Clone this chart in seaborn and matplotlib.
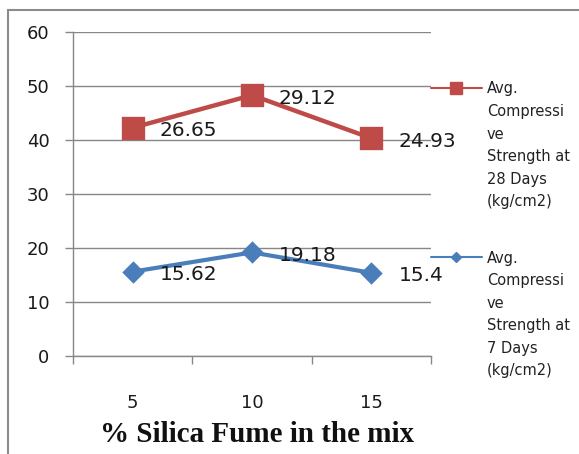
import matplotlib
matplotlib.use("Agg")
import matplotlib.pyplot as plt
import numpy as np
import pandas as pd
import seaborn as sns
from matplotlib.lines import Line2D
from matplotlib.patches import Rectangle

# Data: average compressive strength (kg/cm2) vs % silica fume
silica_pct = ["5", "10", "15"]
strength_7d = [15.62, 19.18, 15.4]
strength_28d = [26.65, 29.12, 24.93]
y_ticks = [0, 10, 20, 30, 40, 50, 60]
x_label = "% Silica Fume in the mix"
legend_28d = ["Avg.", "Compressi", "ve", "Strength at", "28 Days", "(kg/cm2)"]
legend_7d = ["Avg.", "Compressi", "ve", "Strength at", "7 Days", "(kg/cm2)"]

RED = "#BE4B48"
BLUE = "#4A7EBB"
GRID = "#878787"

sns.set_theme(style="white")
plt.rcParams["font.family"] = ["DejaVu Sans"]

df = pd.DataFrame({"pct": silica_pct, "d7": strength_7d, "d28": strength_28d})
# stacked line chart: the 28-day series is drawn on top of the 7-day series
df["d28_stacked"] = df["d7"] + df["d28"]

W, H = 579, 454
fig = plt.figure(figsize=(W / 100, H / 100), dpi=100)
ax = fig.add_axes([73 / W, 1 - 356 / H, (431 - 73) / W, (356 - 32) / H])

sns.pointplot(data=df, x="pct", y="d28_stacked", order=silica_pct, color=RED,
              markers="s", markersize=14, linewidth=3.2, errorbar=None, ax=ax)
sns.pointplot(data=df, x="pct", y="d7", order=silica_pct, color=BLUE,
              markers="D", markersize=9.5, linewidth=3.0, errorbar=None, ax=ax)

# value labels (each series' own value, placed beside its point)
for i in range(len(df)):
    ax.annotate(f"{df['d28'][i]:g}", xy=(i, df["d28_stacked"][i]), xytext=(27, -3),
                textcoords="offset pixels", ha="left", va="center",
                fontsize=14.5, color="#1a1a1a")
    ax.annotate(f"{df['d7'][i]:g}", xy=(i, df["d7"][i]), xytext=(27, -3),
                textcoords="offset pixels", ha="left", va="center",
                fontsize=14.5, color="#1a1a1a")

ax.set_xlim(-0.5, 2.5)
ax.set_ylim(0, 60)
ax.set_yticks(y_ticks)
ax.set_yticklabels([str(t) for t in y_ticks])
ax.yaxis.grid(True, color=GRID, linewidth=1.0)
ax.set_axisbelow(True)
ax.set_xlabel("")
ax.set_ylabel("")

for side in ["top", "right"]:
    ax.spines[side].set_visible(False)
for side in ["left", "bottom"]:
    ax.spines[side].set_color(GRID)
    ax.spines[side].set_linewidth(1.0)

ax.tick_params(axis="y", which="major", left=True, length=6, width=1.0, color=GRID,
               pad=11, labelsize=13, labelcolor="#1a1a1a")
ax.tick_params(axis="x", which="major", bottom=True, length=0, pad=27,
               labelsize=13, labelcolor="#1a1a1a")
ax.set_xticks([-0.5, 0.5, 1.5, 2.5], minor=True)
ax.tick_params(axis="x", which="minor", bottom=True, length=6, width=1.0, color=GRID)

# axis title
fig.text(257 / W, 1 - 435 / H, x_label, ha="center", va="center",
         fontsize=21, fontweight="bold", family="Liberation Serif", color="#111111")

# legend drawn beside the plot
def legend_entry(y_px, color, marker, msize, lines):
    fig.add_artist(Line2D([431 / W, 482 / W], [1 - y_px / H, 1 - y_px / H],
                          transform=fig.transFigure, color=color, linewidth=1.5))
    fig.add_artist(Line2D([456 / W], [1 - y_px / H], transform=fig.transFigure,
                          color=color, marker=marker, markersize=msize, linestyle="none"))
    for k, s in enumerate(lines):
        fig.text(487 / W, 1 - (y_px + 1 + 22.5 * k) / H, s, ha="left", va="center",
                 fontsize=10.5, color="#222222")

legend_entry(88, RED, "s", 8.5, legend_28d)
legend_entry(257, BLUE, "D", 5, legend_7d)

# outer chart frame
fig.add_artist(Rectangle((8 / W, -0.05), 1.2, 1 - 10 / H + 0.05,
                         transform=fig.transFigure, fill=False,
                         edgecolor="#8c8c8c", linewidth=1.5))

fig.savefig("out.png", dpi=100)
